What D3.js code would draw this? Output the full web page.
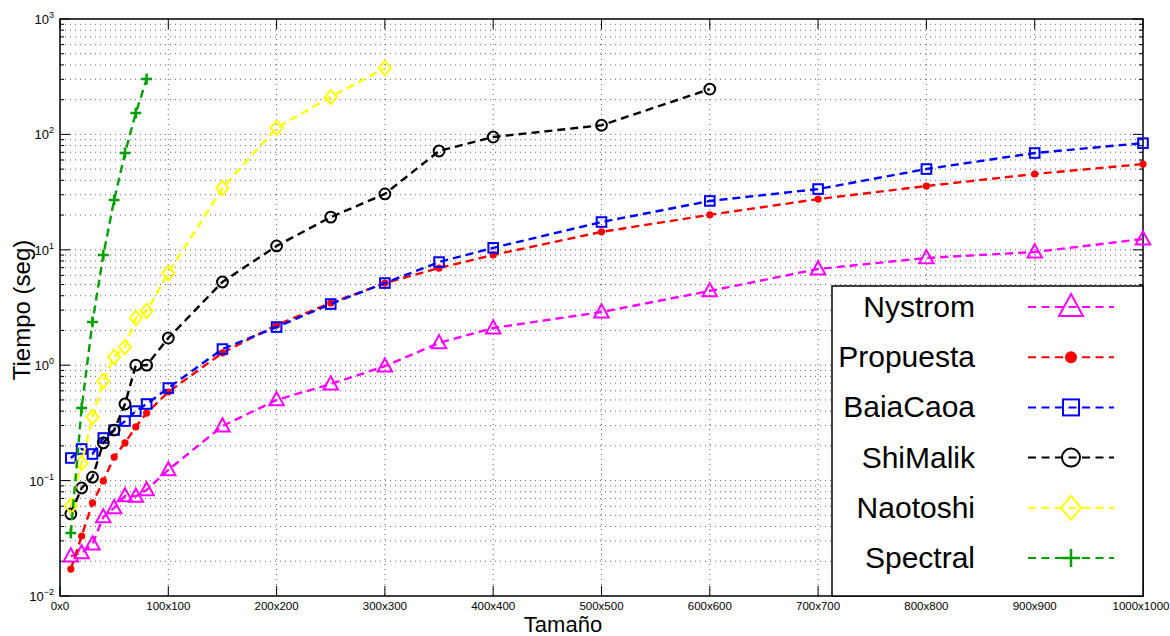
<!DOCTYPE html>
<html><head><meta charset="utf-8">
<script src="https://cdn.jsdelivr.net/npm/d3@7"></script>
<style>
html,body{margin:0;padding:0;background:#fff;}
svg{display:block;font-family:"Liberation Sans",Arial,Helvetica,sans-serif;}
</style></head>
<body><svg id="c" width="1170" height="636"></svg>
<script>
// ---- data ----
const sizesFull = [10,20,30,40,50,60,70,80,100,150,200,250,300,350,400,500,600,700,800,900,1000];
const sizesShi = [10,20,30,40,50,60,70,80,100,150,200,250,300,350,400,500,600];
const sizesNao = [10,20,30,40,50,60,70,80,100,150,200,250,300];
const sizesSpec = [10,20,30,40,50,60,70,80];
const nystrom   = [0.0222,0.0236,0.0282,0.0484,0.058,0.0736,0.073,0.083,0.124,0.297,0.50,0.687,0.98,1.56,2.1,2.89,4.40,6.82,8.5,9.57,12.4];
const propuesta = [0.0171,0.0331,0.064,0.0993,0.160,0.212,0.292,0.385,0.586,1.28,2.23,3.46,5.15,6.95,9.02,14.3,20.1,27.5,35.7,45.4,55.3];
const baiacaoa  = [0.157,0.188,0.170,0.234,0.274,0.328,0.40,0.461,0.634,1.38,2.14,3.39,5.15,7.83,10.4,17.4,26.5,33.6,50.1,69,84];
const shimalik  = [0.0514,0.0863,0.107,0.212,0.274,0.461,1.0,1.0,1.72,5.26,10.8,19.2,30.5,71.8,94.9,120,247];
const naotoshi  = [0.0603,0.142,0.356,0.73,1.18,1.44,2.56,2.95,6.29,34.3,114,211,376];
const spectral  = [0.0351,0.426,2.37,9.02,27.0,69,153,302];
const xTickValues = [0,100,200,300,400,500,600,700,800,900,1000];
const xTickLabels = ["0x0","100x100","200x200","300x300","400x400","500x500","600x600","700x700","800x800","900x900","1000x1000"];
const yDecades = [0.01,0.1,1,10,100,1000];
const yExponents = ["\u22122","\u22121","0","1","2","3"];
const seriesNames = ["Nystrom","Propuesta","BaiaCaoa","ShiMalik","Naotoshi","Spectral"];
const seriesColors = ["#ff00ff","#ff0000","#0000ff","#000000","#ffff00","#00a000"];
const seriesMarkers = ["triangle","dot","square","circle","diamond","plus"];

const series = [
  {x:sizesFull,y:nystrom},{x:sizesFull,y:propuesta},{x:sizesFull,y:baiacaoa},
  {x:sizesShi,y:shimalik},{x:sizesNao,y:naotoshi},{x:sizesSpec,y:spectral}
];

// ---- layout ----
const L=60,R=1143,T=19,B=596;
const svg=d3.select("#c");
const x=d3.scaleLinear().domain([0,1000]).range([L,R]);
const y=d3.scaleLog().domain([0.01,1000]).range([B,T]);

// grid
const minorVals=[];
for(let k=-2;k<3;k++){for(let m=1;m<10;m++){minorVals.push(m*Math.pow(10,k));}}
minorVals.push(1000);
const grid=svg.append("g");
grid.selectAll("line.h").data(minorVals.filter(v=>v>0.01&&v<1000)).enter().append("line")
  .attr("x1",L).attr("x2",R).attr("y1",d=>y(d)).attr("y2",d=>y(d))
  .attr("stroke","#666").attr("stroke-width",1).attr("stroke-dasharray","1,4");
grid.selectAll("line.v").data(xTickValues.filter(v=>v>0&&v<1000)).enter().append("line")
  .attr("y1",T).attr("y2",B).attr("x1",d=>x(d)).attr("x2",d=>x(d))
  .attr("stroke","#666").attr("stroke-width",1).attr("stroke-dasharray","1,4");

// ticks (inward)
const tk=svg.append("g").attr("stroke","#000").attr("stroke-width",1);
minorVals.forEach(v=>{
  const isMajor=yDecades.includes(v);
  const len=isMajor?10:4;
  tk.append("line").attr("x1",L).attr("x2",L+len).attr("y1",y(v)).attr("y2",y(v));
  tk.append("line").attr("x1",R).attr("x2",R-len).attr("y1",y(v)).attr("y2",y(v));
});
xTickValues.forEach(v=>{
  tk.append("line").attr("x1",x(v)).attr("x2",x(v)).attr("y1",B).attr("y2",B-10);
  tk.append("line").attr("x1",x(v)).attr("x2",x(v)).attr("y1",T).attr("y2",T+10);
});

// frame
svg.append("rect").attr("x",L).attr("y",T).attr("width",R-L).attr("height",B-T)
  .attr("fill","none").attr("stroke","#000").attr("stroke-width",1.5);

// tick labels
svg.append("g").selectAll("text").data(xTickValues).enter().append("text")
  .attr("x",(d,i)=>i===xTickValues.length-1?Math.min(x(d),1141):x(d)).attr("y",B+14).attr("text-anchor","middle")
  .attr("font-size",11.5).attr("fill","#000").text((d,i)=>xTickLabels[i]);
yDecades.forEach((v,i)=>{
  const t=svg.append("text").attr("x",54).attr("y",y(v)+5).attr("text-anchor","end")
    .attr("font-size",13).attr("fill","#000");
  t.append("tspan").text("10");
  t.append("tspan").attr("dy",-6).attr("font-size",9).text(yExponents[i]);
});

// axis titles
svg.append("text").attr("transform","translate(30,310) rotate(-90)").attr("text-anchor","middle")
  .attr("font-size",24).text("Tiempo (seg)");
svg.append("text").attr("x",563).attr("y",632).attr("text-anchor","middle")
  .attr("font-size",22).text("Tamaño");

// markers
function drawMarker(g,type,cx,cy,color,s){
  if(type==="triangle"){
    g.append("path").attr("d",`M${cx},${cy-s*0.65}L${cx+s*0.6},${cy+s*0.45}L${cx-s*0.6},${cy+s*0.45}Z`)
      .attr("fill","none").attr("stroke",color).attr("stroke-width",2);
  } else if(type==="dot"){
    g.append("circle").attr("cx",cx).attr("cy",cy).attr("r",s*0.3).attr("fill",color);
  } else if(type==="square"){
    g.append("rect").attr("x",cx-s*0.4).attr("y",cy-s*0.4).attr("width",s*0.8).attr("height",s*0.8)
      .attr("fill","none").attr("stroke",color).attr("stroke-width",2);
  } else if(type==="circle"){
    g.append("circle").attr("cx",cx).attr("cy",cy).attr("r",s*0.45)
      .attr("fill","none").attr("stroke",color).attr("stroke-width",2);
  } else if(type==="diamond"){
    g.append("path").attr("d",`M${cx},${cy-s*0.6}L${cx+s*0.5},${cy}L${cx},${cy+s*0.6}L${cx-s*0.5},${cy}Z`)
      .attr("fill","none").attr("stroke",color).attr("stroke-width",2);
  } else if(type==="plus"){
    g.append("path").attr("d",`M${cx-s*0.45},${cy}H${cx+s*0.45}M${cx},${cy-s*0.45}V${cy+s*0.45}`)
      .attr("fill","none").attr("stroke",color).attr("stroke-width",2.5);
  }
}

const line=d3.line().x(d=>x(d[0])).y(d=>y(d[1]));
const plot=svg.append("g");
series.forEach((s,i)=>{
  const pts=s.x.map((v,j)=>[v,s.y[j]]);
  plot.append("path").attr("d",line(pts)).attr("fill","none")
    .attr("stroke",seriesColors[i]).attr("stroke-width",2.4).attr("stroke-dasharray","8,5");
  const g=plot.append("g");
  pts.forEach(p=>drawMarker(g,seriesMarkers[i],x(p[0]),y(p[1]),seriesColors[i],12));
});

// legend
const lg=svg.append("g");
lg.append("rect").attr("x",832).attr("y",286).attr("width",R-832).attr("height",B-286)
  .attr("fill","#fff").attr("stroke","#000").attr("stroke-width",1.5);
seriesNames.forEach((n,i)=>{
  const cy=307+i*50.2;
  lg.append("text").attr("x",975).attr("y",cy+10).attr("text-anchor","end")
    .attr("font-size",30).attr("fill","#000").text(n);
  lg.append("line").attr("x1",1028).attr("x2",1114).attr("y1",cy).attr("y2",cy)
    .attr("stroke",seriesColors[i]).attr("stroke-width",2).attr("stroke-dasharray","8,5.5");
  drawMarker(lg,seriesMarkers[i],1071,cy,seriesColors[i],20);
});
</script></body></html>
